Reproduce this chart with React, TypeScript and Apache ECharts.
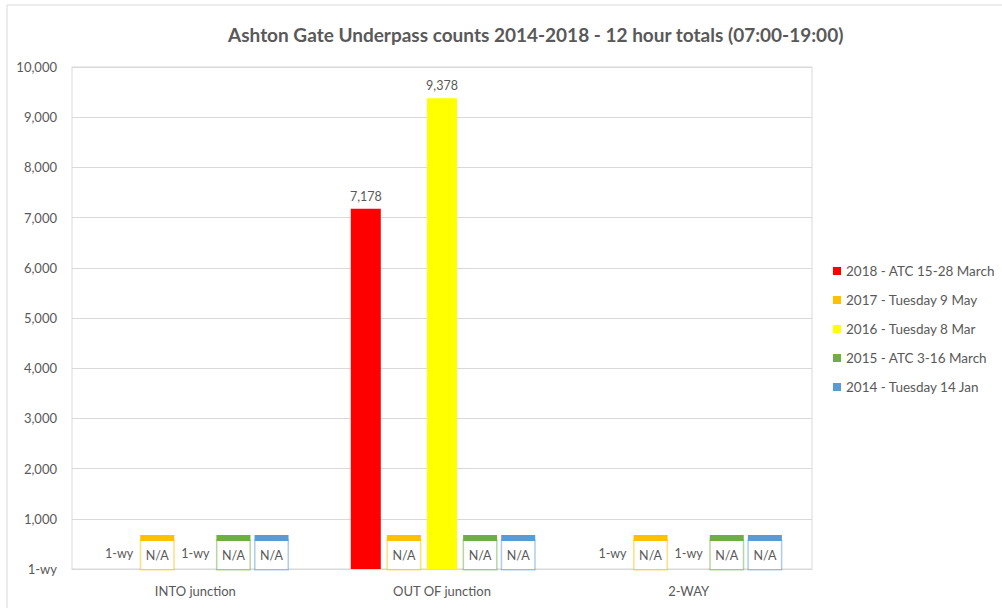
import React, { useEffect, useRef } from "react";
import * as echarts from "echarts";

// Counts per direction; 0 is shown as "1-wy" (one-way only), null means no survey (N/A)
const categories = ["INTO junction", "OUT OF junction", "2-WAY"];
const seriesNames = [
  "2018 - ATC 15-28 March",
  "2017 - Tuesday 9 May",
  "2016 - Tuesday 8 Mar",
  "2015 - ATC 3-16 March",
  "2014 - Tuesday 14 Jan",
];
const seriesColors = ["#FF0000", "#FFC000", "#FFFF00", "#70AD47", "#5B9BD5"];
const counts2018: (number | null)[] = [0, 7178, 0];
const counts2017: (number | null)[] = [null, null, null];
const counts2016: (number | null)[] = [0, 9378, 0];
const counts2015: (number | null)[] = [null, null, null];
const counts2014: (number | null)[] = [null, null, null];
const yTicks = [0, 1000, 2000, 3000, 4000, 5000, 6000, 7000, 8000, 9000, 10000];

const allCounts = [counts2018, counts2017, counts2016, counts2015, counts2014];
const FONT = "Lato, 'Open Sans', sans-serif";
const TEXT = "#595959";

const fmt = (v: number) => (v === 0 ? "1-wy" : v.toLocaleString("en-US"));

function fade(hex: string, a: number) {
  const n = parseInt(hex.slice(1), 16);
  return `rgba(${(n >> 16) & 255},${(n >> 8) & 255},${n & 255},${a})`;
}

function buildData(values: (number | null)[], color: string) {
  return values.map((v) => {
    if (v === null) {
      return {
        value: 0,
        label: {
          show: true,
          position: "insideBottom",
          distance: 0,
          formatter: "{cap|}\n{box|N/A}",
          rich: {
            cap: { width: 34, height: 6, lineHeight: 6, backgroundColor: color },
            box: {
              width: 32,
              height: 28,
              lineHeight: 28,
              align: "center",
              verticalAlign: "middle",
              backgroundColor: "#ffffff",
              borderColor: fade(color, 0.5),
              borderWidth: 1.5,
              color: TEXT,
              fontSize: 12.5,
              fontFamily: FONT,
            },
          },
        },
      };
    }
    if (v === 0) {
      return {
        value: 0,
        label: {
          show: true,
          position: "insideBottom",
          distance: 9,
          formatter: "1-wy",
          color: TEXT,
          fontSize: 12.5,
          fontFamily: FONT,
        },
      };
    }
    return { value: v };
  });
}

export default function App() {
  const ref = useRef<HTMLDivElement>(null);

  useEffect(() => {
    if (!ref.current) return;
    const chart = echarts.init(ref.current, undefined, { renderer: "svg" });
    chart.setOption({
      animation: false,
      backgroundColor: "#ffffff",
      textStyle: { fontFamily: FONT },
      title: {
        text: "Ashton Gate Underpass counts 2014-2018 - 12 hour totals (07:00-19:00)",
        left: 223,
        top: 20,
        textStyle: { fontSize: 19, fontWeight: "bold", color: TEXT, fontFamily: FONT },
      },
      graphic: [
        {
          type: "rect",
          shape: { x: 7, y: 5, width: 1010, height: 640 },
          style: { fill: "none", stroke: "#d9d9d9", lineWidth: 1 },
          silent: true,
        },
      ],
      legend: {
        orient: "vertical",
        left: 828,
        top: 259,
        icon: "rect",
        itemWidth: 8,
        itemHeight: 8,
        itemGap: 15,
        textStyle: { fontSize: 13.5, color: TEXT, fontFamily: FONT, lineHeight: 14 },
        data: seriesNames,
      },
      grid: {
        left: 72,
        right: 190,
        top: 67,
        bottom: 39,
        show: true,
        borderColor: "#d9d9d9",
        borderWidth: 1,
      },
      xAxis: {
        type: "category",
        data: categories,
        axisTick: { show: false },
        axisLine: { lineStyle: { color: "#d9d9d9" } },
        axisLabel: { color: TEXT, fontSize: 13, fontFamily: FONT, margin: 15 },
      },
      yAxis: {
        type: "value",
        min: yTicks[0],
        max: yTicks[yTicks.length - 1],
        interval: yTicks[1] - yTicks[0],
        axisLine: { show: false },
        axisTick: { show: false },
        splitLine: { lineStyle: { color: "#d9d9d9" } },
        axisLabel: {
          color: TEXT,
          fontSize: 13,
          fontFamily: FONT,
          margin: 15,
          formatter: (v: number) => fmt(v),
        },
      },
      series: seriesNames.map((name, i) => ({
        name,
        type: "bar",
        barWidth: 30,
        barGap: "27%",
        itemStyle: { color: seriesColors[i] },
        label: {
          show: true,
          position: "top",
          distance: 6,
          color: TEXT,
          fontSize: 12.5,
          fontFamily: FONT,
          formatter: (p: any) => fmt(p.value),
        },
        data: buildData(allCounts[i], seriesColors[i]),
      })),
    });
    return () => chart.dispose();
  }, []);

  return (
    <div
      ref={ref}
      style={{ position: "fixed", left: 0, top: 0, width: 1002, height: 608 }}
    />
  );
}
